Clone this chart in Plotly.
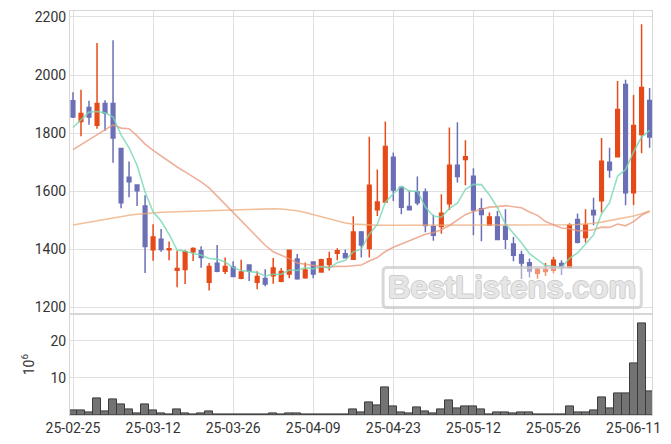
import plotly.graph_objects as go
from plotly.subplots import make_subplots

dates = ["25-02-25","25-02-26","25-02-27","25-02-28","25-03-04","25-03-05","25-03-06","25-03-07","25-03-10","25-03-11",
         "25-03-12","25-03-13","25-03-14","25-03-17","25-03-18","25-03-19","25-03-20","25-03-21","25-03-24","25-03-25",
         "25-03-26","25-03-27","25-03-28","25-03-31","25-04-01","25-04-02","25-04-03","25-04-04","25-04-07","25-04-08",
         "25-04-09","25-04-10","25-04-11","25-04-14","25-04-15","25-04-16","25-04-17","25-04-18","25-04-21","25-04-22",
         "25-04-23","25-04-24","25-04-25","25-04-28","25-04-29","25-04-30","25-05-02","25-05-07","25-05-08","25-05-09",
         "25-05-12","25-05-13","25-05-14","25-05-15","25-05-16","25-05-19","25-05-20","25-05-21","25-05-22","25-05-23",
         "25-05-26","25-05-27","25-05-28","25-05-29","25-05-30","25-06-02","25-06-04","25-06-05","25-06-09","25-06-10",
         "25-06-11","25-06-12","25-06-13"]

opens = [1911,1840,1888,1827,1902,1902,1747,1648,1621,1549,
         1398,1434,1398,1327,1330,1391,1394,1286,1351,1324,
         1338,1300,1345,1286,1299,1308,1289,1314,1366,1301,
         1356,1321,1347,1386,1384,1365,1459,1402,1536,1562,
         1717,1613,1547,1597,1597,1478,1478,1556,1689,1709,
         1651,1539,1483,1511,1478,1418,1381,1353,1317,1323,
         1327,1350,1337,1502,1440,1533,1567,1699,1718,1967,
         1594,1795,1912]
highs = [1941,1949,1911,2110,1913,2120,1747,1702,1621,1586,
         1486,1469,1426,1394,1397,1406,1410,1352,1414,1371,
         1358,1363,1345,1324,1331,1369,1335,1399,1383,1354,
         1356,1367,1391,1403,1399,1513,1462,1787,1674,1840,
         1733,1616,1602,1650,1609,1518,1589,1819,1837,1775,
         1679,1575,1526,1531,1537,1442,1394,1368,1337,1352,
         1373,1362,1489,1523,1537,1577,1783,1749,1979,1984,
         1931,2175,1955]
lows = [1852,1789,1829,1815,1808,1698,1541,1579,1549,1318,
        1360,1391,1362,1269,1280,1359,1336,1257,1320,1314,
        1305,1296,1290,1262,1272,1281,1286,1300,1294,1298,
        1300,1319,1326,1362,1368,1364,1371,1371,1514,1560,
        1566,1520,1536,1551,1458,1429,1453,1535,1630,1620,
        1448,1427,1482,1432,1400,1358,1297,1302,1298,1307,
        1317,1311,1336,1419,1423,1482,1526,1646,1717,1551,
        1552,1730,1749]
closes = [1855,1867,1855,1902,1869,1783,1560,1632,1601,1409,
          1442,1399,1401,1333,1391,1402,1371,1340,1324,1340,
          1306,1321,1324,1306,1280,1335,1323,1396,1298,1328,
          1314,1363,1367,1394,1370,1459,1414,1620,1562,1754,
          1604,1544,1536,1560,1481,1448,1524,1689,1650,1718,
          1535,1519,1511,1433,1434,1379,1352,1325,1331,1329,
          1362,1337,1482,1424,1483,1518,1703,1673,1881,1594,
          1826,1957,1786]
volumes = [1.34,1.34,0.7,4.56,1.07,4.29,2.95,1.6,0.54,2.95,
           1.34,0.54,0.18,1.6,0.54,0.2,0.54,1.07,0.2,0.15,
           0.12,0.12,0.15,0.12,0.12,0.54,0.2,0.54,0.54,0.2,
           0.2,0.2,0.2,0.2,0.2,1.52,0.7,3.4,2.6,7.4,
           2.3,0.7,0.45,2.05,1.0,0.45,1.52,3.93,1.8,2.3,
           2.3,1.52,0.18,0.7,0.7,0.45,0.7,0.7,0.18,0.18,
           0.18,0.18,2.3,0.7,0.7,1.25,4.74,1.8,5.8,5.8,
           13.9,24.6,6.4]
ma5 = [1819,1846,1872,1874,1869.6,1855.2,1793.8,1749.2,1689,1597,
       1528.8,1496.6,1450.4,1396.8,1393.2,1385.2,1379.6,1367.4,1365.6,1355.4,
       1336.2,1326.2,1323,1319.4,1307.4,1313.2,1313.6,1328,1326.4,1336,
       1331.8,1339.8,1334,1353.2,1361.6,1390.6,1400.8,1451.4,1485,1561.8,
       1590.8,1616.8,1600,1599.6,1545,1513.8,1509.8,1540.4,1558.4,1605.8,
       1623.2,1622.2,1586.6,1543.2,1486.4,1455.2,1421.8,1384.6,1364.2,1343.2,
       1339.8,1336.8,1368.2,1386.8,1417.6,1448.8,1522,1560.2,1651.6,1673.8,
       1735.4,1786.2,1808.8]
ma20 = [1743,1760,1777,1794,1811,1828,1817,1815,1790,1762,
        1740,1720,1703,1683,1666,1649,1632,1611,1583,1553.8,
        1526.4,1499.1,1472.5,1442.7,1413.3,1390.9,1379.0,1367.2,1352.1,1348.0,
        1341.6,1339.8,1338.1,1341.2,1340.1,1343.0,1345.1,1359.1,1371.0,1391.7,
        1406.6,1417.8,1428.4,1441.1,1451.1,1456.8,1466.8,1481.5,1499.1,1518.6,
        1529.6,1537.4,1544.6,1546.6,1549.8,1545.8,1542.7,1527.9,1516.4,1495.1,
        1483.0,1472.7,1470.0,1463.2,1463.3,1466.8,1475.7,1474.9,1486.5,1480.3,
        1494.8,1516.7,1530.5]
ma60 = [1483,1488,1494,1499,1504,1509,1513,1517,1520,1523,
        1525,1527,1528,1529,1530,1531,1532,1533,1534,1535,
        1536,1537,1538,1539,1539,1539,1538,1536,1532,1526,
        1519,1511,1503,1496,1490,1486,1484,1483,1482,1482,
        1482,1482,1482,1482,1482,1482,1482,1482,1482,1482,
        1482,1482,1482,1482,1482,1482,1482,1482,1482,1482,
        1483,1483,1484,1485,1486,1489,1493,1498,1503,1508,
        1514,1522,1531]

UP = "#e64a19"
DOWN = "#6b6fb5"
FONT = "Roboto"

fig = make_subplots(rows=2, cols=1, shared_xaxes=True, vertical_spacing=0,
                    row_heights=[0.751, 0.249])

fig.add_trace(go.Scatter(x=dates, y=ma60, mode="lines",
                         line=dict(color="rgba(238,170,120,0.75)", width=1.6),
                         hoverinfo="skip"), row=1, col=1)
fig.add_trace(go.Scatter(x=dates, y=ma20, mode="lines",
                         line=dict(color="rgba(232,150,120,0.75)", width=1.6),
                         hoverinfo="skip"), row=1, col=1)
fig.add_trace(go.Scatter(x=dates, y=ma5, mode="lines",
                         line=dict(color="rgba(120,215,180,0.8)", width=1.6),
                         hoverinfo="skip"), row=1, col=1)
fig.add_trace(go.Candlestick(x=dates, open=opens, high=highs, low=lows, close=closes,
                             increasing=dict(line=dict(color=UP, width=1.5), fillcolor=UP),
                             decreasing=dict(line=dict(color=DOWN, width=1.5), fillcolor=DOWN),
                             whiskerwidth=0),
              row=1, col=1)
fig.add_trace(go.Bar(x=dates, y=volumes,
                     marker=dict(color="#737373", line=dict(color="#3c3c3c", width=1))),
              row=2, col=1)

axis_common = dict(showgrid=True, gridcolor="#e0e0e0", gridwidth=1,
                   showline=True, linecolor="#d6d6d6", linewidth=1, mirror=True,
                   zeroline=False, tickfont=dict(family=FONT, size=14, color="#333333"))

tick_dates = dates[::10]
fig.update_xaxes(type="category", range=[-0.375, 72.3], tickmode="array",
                 tickvals=tick_dates, ticktext=tick_dates, rangeslider_visible=False,
                 **axis_common)
fig.update_xaxes(showticklabels=False, row=1, col=1)
fig.update_yaxes(range=[1175, 2220.6], tickvals=[1200, 1400, 1600, 1800, 2000, 2200],
                 ticklabeloverflow="allow", row=1, col=1, **axis_common)
fig.update_yaxes(range=[0, 27.1], tickvals=[10, 20], row=2, col=1,
                 title=dict(text="10<sup>6</sup>", font=dict(family=FONT, size=14, color="#333333"),
                            standoff=12),
                 **axis_common)

# watermark box
x0, x1, y0, y1 = 0.538, 0.9816, 0.266, 0.365
rx, ry = 0.007, 0.01
path = (f"M {x0+rx},{y0} L {x1-rx},{y0} Q {x1},{y0} {x1},{y0+ry} L {x1},{y1-ry} "
        f"Q {x1},{y1} {x1-rx},{y1} L {x0+rx},{y1} Q {x0},{y1} {x0},{y1-ry} "
        f"L {x0},{y0+ry} Q {x0},{y0} {x0+rx},{y0} Z")
fig.add_shape(type="path", path=path, xref="paper", yref="paper",
              line=dict(color="rgba(200,200,200,0.7)", width=3),
              fillcolor="rgba(255,255,255,0.4)", layer="above")
cx, cy = (x0 + x1) / 2, (y0 + y1) / 2
fig.add_annotation(text="<b>BestListens.com</b>", xref="paper", yref="paper",
                   x=cx, y=cy, showarrow=False, xanchor="center", yanchor="middle",
                   font=dict(family="Liberation Sans", size=31, color="#e6e6e6",
                             shadow="1px 0 0 #cdcdcd, -1px 0 0 #cdcdcd, 0 1px 0 #cdcdcd, 0 -1px 0 #cdcdcd"))

# page body has an 8px margin: shift figure margins so the plot area lands where the reference has it
fig.update_layout(width=671, height=444, showlegend=False,
                  margin=dict(l=62.3, r=27.3, t=1.3, b=37),
                  paper_bgcolor="white", plot_bgcolor="white",
                  bargap=0, boxgap=0.35, font=dict(family=FONT, size=14, color="#333333"))

fig.write_html("out.html")
